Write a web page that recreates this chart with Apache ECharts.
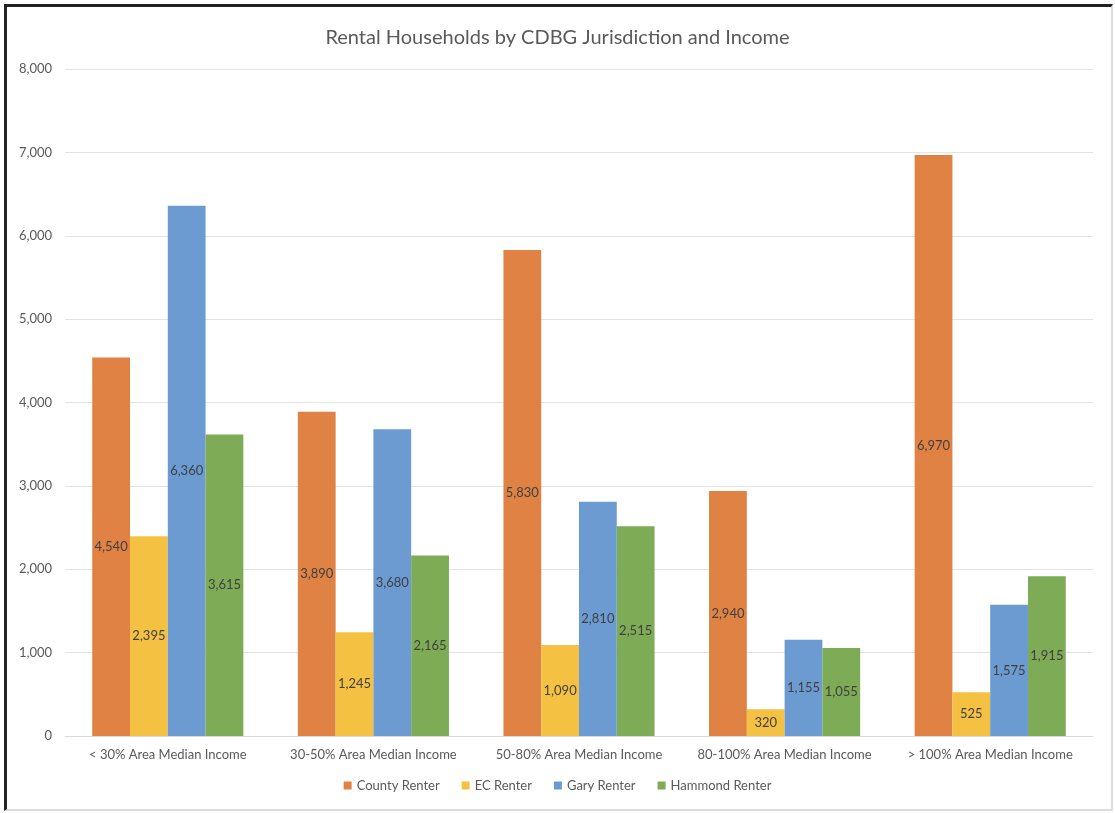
<!DOCTYPE html>
<html>
<head>
<meta charset="utf-8">
<script src="https://cdn.jsdelivr.net/npm/echarts@6/dist/echarts.min.js"></script>
<style>
body{margin:0;background:#fff;}
#frame{position:absolute;left:4px;top:4px;width:1104px;height:802px;border-left:3px solid #222;border-top:3px solid #222;border-right:2px solid #ddd;border-bottom:2px solid #ddd;}
#main{position:absolute;left:0;top:0;width:1115px;height:813px;}
</style>
</head>
<body>
<div id="frame"></div>
<div id="main"></div>
<script>
var categories = ['< 30% Area Median Income','30-50% Area Median Income','50-80% Area Median Income','80-100% Area Median Income','> 100% Area Median Income'];
var seriesNames = ['County Renter','EC Renter','Gary Renter','Hammond Renter'];
var county = [4540, 3890, 5830, 2940, 6970];
var ec = [2395, 1245, 1090, 320, 525];
var gary = [6360, 3680, 2810, 1155, 1575];
var hammond = [3615, 2165, 2515, 1055, 1915];
var colors = ['#E08244','#F4C142','#6B9BD1','#7EAB55'];

var font = 'Lato, "Open Sans", sans-serif';
var myChart = echarts.init(document.getElementById('main'));

function fmt(v){ return v.toLocaleString('en-US'); }

var seriesData = [county, ec, gary, hammond];
var series = [];
for (var i = 0; i < seriesData.length; i++) {
    series.push({
        name: seriesNames[i],
        type: 'bar',
        data: seriesData[i],
        barGap: '0%',
        barCategoryGap: '26.5%',
        itemStyle: {color: colors[i]},
        label: {
            show: true,
            position: 'inside',
            color: '#404040',
            fontSize: 13,
            fontFamily: font,
            formatter: function(p){ return fmt(p.value); }
        }
    });
}

myChart.setOption({
    animation: false,
    color: colors,
    title: {
        text: 'Rental Households by CDBG Jurisdiction and Income',
        left: 'center',
        top: 23,
        textStyle: {color: '#595959', fontSize: 20, fontWeight: 'normal', fontFamily: font}
    },
    legend: {
        bottom: 16,
        left: 'center',
        itemWidth: 8,
        itemHeight: 8,
        itemGap: 22,
        icon: 'rect',
        textStyle: {color: '#595959', fontSize: 13, fontFamily: font}
    },
    grid: {left: 65, right: 22, top: 69, bottom: 77},
    xAxis: {
        type: 'category',
        data: categories,
        axisLine: {lineStyle: {color: '#d9d9d9'}},
        axisTick: {show: false},
        axisLabel: {color: '#595959', fontSize: 13, fontFamily: font, margin: 12, interval: 0}
    },
    yAxis: {
        type: 'value',
        min: 0,
        max: 8000,
        interval: 1000,
        axisLine: {show: false},
        axisTick: {show: false},
        splitLine: {lineStyle: {color: '#e3e3e3'}},
        axisLabel: {color: '#595959', fontSize: 13, fontFamily: font, margin: 13,
            formatter: function(v){ return fmt(v); }}
    },
    series: series
});
</script>
</body>
</html>
